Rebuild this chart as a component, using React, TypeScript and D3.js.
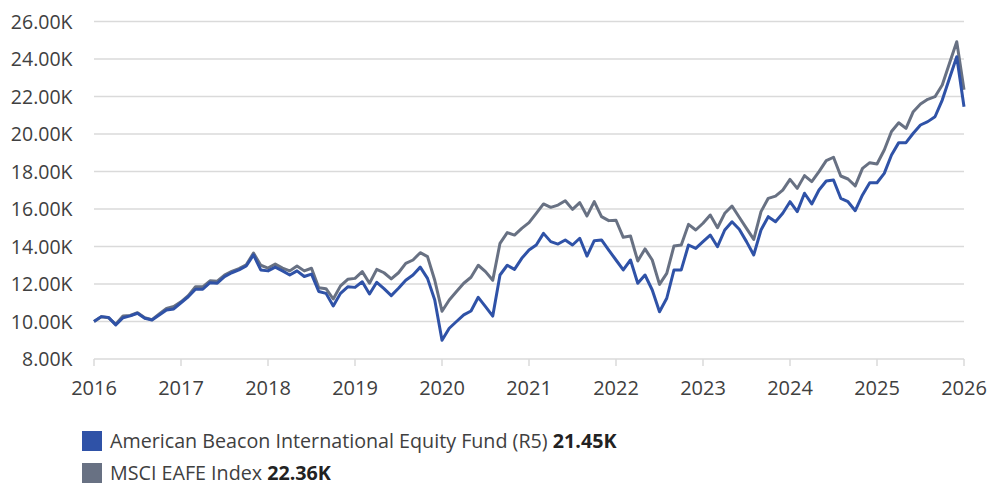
import React from "react";
import * as d3 from "d3";

const years = [2016, 2017, 2018, 2019, 2020, 2021, 2022, 2023, 2024, 2025, 2026];
const yTicks = [8, 10, 12, 14, 16, 18, 20, 22, 24, 26];

const fundName = "American Beacon International Equity Fund (R5)";
const indexName = "MSCI EAFE Index";

// Monthly growth of 10K, Jan 2016 .. Jan 2026 (in thousands)
const fundValues = [
  10.0, 10.26, 10.22, 9.82, 10.2, 10.3, 10.44, 10.17, 10.08, 10.35, 10.61, 10.67,
  11.0, 11.32, 11.72, 11.72, 12.07, 12.04, 12.39, 12.6, 12.75, 12.96, 13.55, 12.75,
  12.7, 12.9, 12.7, 12.48, 12.7, 12.4, 12.53, 11.6, 11.5, 10.83, 11.5, 11.85,
  11.82, 12.12, 11.47, 12.09, 11.75, 11.38, 11.77, 12.2, 12.48, 12.9, 12.3, 11.15,
  9.0, 9.64, 10.0, 10.35, 10.56, 11.29, 10.79, 10.29, 12.48, 13.0, 12.78, 13.37,
  13.81, 14.08, 14.7, 14.26, 14.13, 14.35, 14.08, 14.44, 13.49, 14.31, 14.35, 13.81,
  13.28, 12.75, 13.28, 12.04, 12.48, 11.68, 10.52, 11.24, 12.75, 12.75, 14.08, 13.9,
  14.26, 14.61, 13.99, 14.88, 15.32, 14.92, 14.26, 13.55, 14.88, 15.59, 15.32, 15.77,
  16.39, 15.86, 16.84, 16.27, 17.01, 17.49, 17.55, 16.57, 16.39, 15.91, 16.75, 17.4,
  17.4, 17.9, 18.88, 19.54, 19.54, 20.04, 20.48, 20.66, 20.92, 21.81, 22.97, 24.12,
  21.45,
];

const indexValues = [
  10.0, 10.25, 10.2, 9.85, 10.3, 10.32, 10.47, 10.2, 10.1, 10.4, 10.7, 10.8,
  11.05, 11.38, 11.85, 11.85, 12.17, 12.15, 12.47, 12.67, 12.82, 13.02, 13.65, 13.0,
  12.85, 13.07, 12.85, 12.7, 12.96, 12.7, 12.84, 11.8, 11.75, 11.2, 11.9, 12.25,
  12.3, 12.66, 12.04, 12.78, 12.6, 12.27, 12.6, 13.1, 13.28, 13.67, 13.46, 12.2,
  10.55, 11.15, 11.6, 12.04, 12.36, 13.0, 12.66, 12.2, 14.17, 14.74, 14.61, 14.97,
  15.27, 15.77, 16.27, 16.09, 16.21, 16.44, 15.98, 16.34, 15.63, 16.39, 15.59, 15.38,
  15.4, 14.49, 14.56, 13.23, 13.87, 13.28, 11.98, 12.57, 14.03, 14.08, 15.18, 14.88,
  15.24, 15.68, 15.0, 15.77, 16.16, 15.56, 14.97, 14.38, 15.86, 16.57, 16.69, 17.01,
  17.58, 17.1, 17.78, 17.46, 17.99, 18.58, 18.76, 17.76, 17.6, 17.23, 18.17, 18.47,
  18.4, 19.15, 20.13, 20.6, 20.3, 21.19, 21.6, 21.85, 21.99, 22.61, 23.77, 24.92,
  22.36,
];

const W = 990;
const H = 483;
const left = 94;
const right = 964;
const top = 21.5;
const bottom = 359;

const FONT = "'Open Sans', 'Noto Sans', sans-serif";
const BLUE = "#2f52a7";
const GRAY = "#687183";
const TEXT = "#404040";

export default function App() {
  const x = d3.scaleLinear().domain([0, fundValues.length - 1]).range([left, right]);
  const xYear = d3.scaleLinear().domain([2016, 2026]).range([left, right]);
  const y = d3.scaleLinear().domain([8, 26]).range([bottom, top]);

  const line = d3
    .line<number>()
    .x((_, i) => x(i))
    .y((d) => y(d));

  return (
    <svg
      width={W}
      height={H}
      style={{ position: "absolute", left: 0, top: 0, background: "#fff" }}
      fontFamily={FONT}
    >
      {yTicks.map((t) => (
        <g key={t}>
          <line x1={left} x2={right} y1={y(t)} y2={y(t)} stroke="#dadada" strokeWidth={1.5} />
          <text
            x={72.5}
            y={y(t)}
            dy="0.36em"
            textAnchor="end"
            fontSize={19.5}
            fill={TEXT}
          >
            {t.toFixed(2) + "K"}
          </text>
        </g>
      ))}
      {years.map((yr) => (
        <g key={yr}>
          <line x1={xYear(yr)} x2={xYear(yr)} y1={bottom} y2={bottom + 7} stroke="#dadada" strokeWidth={1.5} />
          <text x={xYear(yr)} y={395} textAnchor="middle" fontSize={20} fill={TEXT}>
            {yr}
          </text>
        </g>
      ))}
      <path d={line(indexValues) || ""} fill="none" stroke={GRAY} strokeWidth={3} strokeLinejoin="round" />
      <path d={line(fundValues) || ""} fill="none" stroke={BLUE} strokeWidth={3} strokeLinejoin="round" />

      <rect x={82} y={431} width={20} height={20} fill={BLUE} />
      <text x={110} y={448} fontSize={19.7} fill={TEXT}>
        {fundName + " "}
        <tspan fontWeight="bold" fill="#222">
          {fundValues[fundValues.length - 1].toFixed(2) + "K"}
        </tspan>
      </text>
      <rect x={82} y={463} width={20} height={20} fill={GRAY} />
      <text x={110} y={480} fontSize={19.7} fill={TEXT}>
        {indexName + " "}
        <tspan fontWeight="bold" fill="#222">
          {indexValues[indexValues.length - 1].toFixed(2) + "K"}
        </tspan>
      </text>
    </svg>
  );
}
